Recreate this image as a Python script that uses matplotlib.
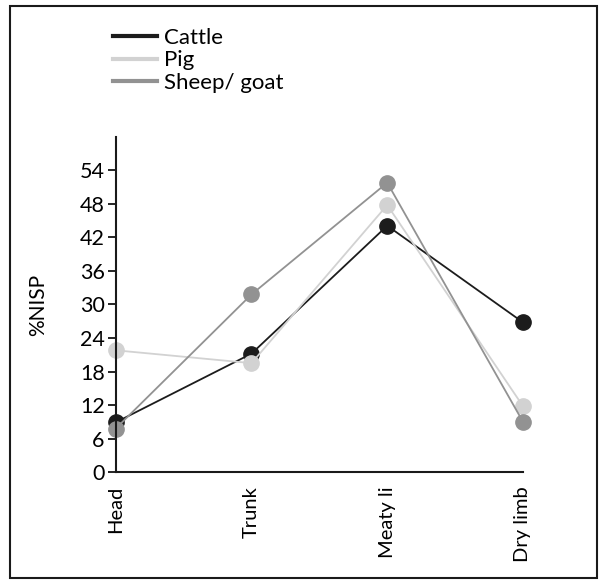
import matplotlib.pyplot as plt
from matplotlib.patches import Rectangle
import numpy as np

# Values
categories = ['Head', 'Trunk', 'Meaty li', 'Dry limb']
cattle = [8.9, 21.2, 44.1, 26.8]
pig = [21.8, 19.5, 47.8, 11.8]
sheep_goat = [7.8, 31.8, 51.8, 9.0]
y_ticks = [0, 6, 12, 18, 24, 30, 36, 42, 48, 54]

colors = {
    "cattle": "#1c1c1c",
    "pig": "#d2d2d2",
    "sheep": "#929292",
}

plt.rcParams['font.family'] = ['Lato', 'DejaVu Sans']

fig = plt.figure(figsize=(6.06, 5.85), dpi=100)
ax = fig.add_axes([0.191, 0.193, 0.672, 0.573])

x = np.arange(len(categories))
series = [("Cattle", cattle, colors["cattle"]),
          ("Pig", pig, colors["pig"]),
          ("Sheep/ goat", sheep_goat, colors["sheep"])]
for name, vals, col in series:
    ax.plot(x, vals, color=col, linewidth=1.3, marker='o', markersize=11,
            clip_on=False, label=name)

ax.set_xlim(0, 3)
ax.set_ylim(0, 60)
ax.set_yticks(y_ticks)
ax.set_xticks(x)
ax.set_xticklabels(categories, rotation=90, fontsize=14.5, va='top')
ax.tick_params(axis='y', labelsize=15.5, length=6, width=1.2, pad=2)
ax.tick_params(axis='x', length=0, pad=10)
ax.set_ylabel('%NISP', fontsize=15)
ax.yaxis.set_label_coords(-0.167, 0.5)

for side in ['top', 'right']:
    ax.spines[side].set_visible(False)
for side in ['left', 'bottom']:
    ax.spines[side].set_linewidth(1.5)
    ax.spines[side].set_color('#1a1a1a')

handles = [plt.Line2D([], [], color=c, linewidth=3) for _, _, c in series]
fig.legend(handles, [s[0] for s in series], loc='upper left',
           bbox_to_anchor=(0.186, 0.952), frameon=False, fontsize=16,
           handlelength=2.0, handletextpad=0.3, labelspacing=0.1,
           borderpad=0, borderaxespad=0)

# frame around the whole figure
fig.patches.append(Rectangle((0.017, 0.012), 0.968, 0.978, transform=fig.transFigure,
                             fill=False, edgecolor='#1a1a1a', linewidth=1.5))

plt.savefig('out.png', dpi=100)
